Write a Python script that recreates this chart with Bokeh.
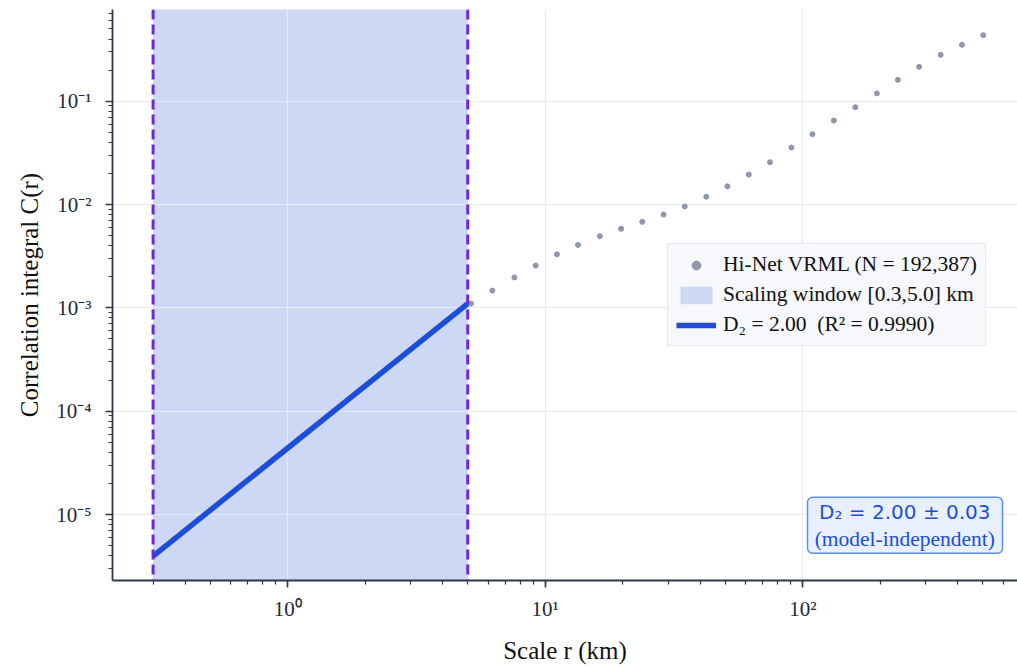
from bokeh.plotting import figure
from bokeh.models import (Range1d, Span, Legend, LegendItem, BoxAnnotation, Label,
                          CustomJSTickFormatter)
from bokeh.embed import file_html
from bokeh.resources import INLINE

# Correlation integral C(r) of the Hi-Net VRML catalogue
r_km = [5.15, 6.23, 7.59, 9.18, 11.1, 13.4, 16.3, 19.7, 23.8, 28.8, 34.8, 42.2,
        51.0, 61.7, 74.6, 90.3, 109, 132, 160, 194, 234, 283, 343, 415, 502]
c_r = [1.10e-3, 1.47e-3, 1.97e-3, 2.57e-3, 3.30e-3, 4.07e-3, 4.94e-3, 5.82e-3,
       6.80e-3, 8.00e-3, 9.57e-3, 1.19e-2, 1.50e-2, 1.95e-2, 2.57e-2, 3.56e-2,
       4.80e-2, 6.50e-2, 8.75e-2, 0.119, 0.161, 0.215, 0.281, 0.351, 0.436]

# Scaling window and power-law fit C(r) = A * r^D2
window_km = [0.3, 5.0]
d2 = 2.00
d2_err = 0.03
r_squared = 0.9990
fit_amp = 4.4e-5
n_events = 192387

fit_r = list(window_km)
fit_c = [fit_amp * r ** d2 for r in fit_r]

INK = "#1f2937"
AXIS = "#2d3748"
GRID = "#e6ebf2"

p = figure(frame_width=905, frame_height=571,
           x_axis_type="log", y_axis_type="log",
           x_range=Range1d(0.2087, 682), y_range=Range1d(2.3e-6, 0.772),
           output_backend="svg", toolbar_location=None,
           min_border_left=112, min_border_right=0, min_border_top=9,
           min_border_bottom=87, background_fill_color="white",
           border_fill_color="white")
p.outline_line_color = None

# scaling window shading, kept below the grid
shade = p.quad(left=[window_km[0]], right=[window_km[1]], bottom=[1e-12], top=[1e3],
               fill_color="#cdd8f4", line_color=None, level="image")

for g in (p.xgrid, p.ygrid):
    g.grid_line_color = GRID
    g.grid_line_width = 1.2

dots = p.scatter(r_km, c_r, size=5, color="#8a93a5", alpha=0.95)
fit = p.line(fit_r, fit_c, line_color="#1d4ed8", line_width=5.5)

for loc in window_km:
    p.add_layout(Span(location=loc, dimension="height", line_color="#6d28d9",
                      line_width=3, line_dash="10 5"))

sup_js = """
const sup = {"-": "\u207b", "0": "\u2070", "1": "\u00b9", "2": "\u00b2", "3": "\u00b3",
             "4": "\u2074", "5": "\u2075", "6": "\u2076", "7": "\u2077", "8": "\u2078",
             "9": "\u2079"};
const e = Math.round(Math.log10(tick));
return "10" + String(e).split("").map(c => sup[c]).join("");
"""

for ax in (p.xaxis[0], p.yaxis[0]):
    ax.formatter = CustomJSTickFormatter(code=sup_js)
    ax.axis_line_color = AXIS
    ax.axis_line_width = 1.8
    ax.major_tick_line_color = AXIS
    ax.major_tick_line_width = 1.6
    ax.minor_tick_line_color = AXIS
    ax.minor_tick_line_width = 1.2
    ax.major_tick_in = 0
    ax.major_tick_out = 7
    ax.minor_tick_in = 0
    ax.minor_tick_out = 4
    ax.major_label_text_font = "Liberation Serif"
    ax.major_label_text_font_size = "21px"
    ax.major_label_text_color = INK
    ax.axis_label_text_font = "Liberation Serif"
    ax.axis_label_text_font_size = "25px"
    ax.axis_label_text_font_style = "normal"
    ax.axis_label_text_color = "#111111"

p.xaxis.axis_label = "Scale r (km)"
p.yaxis.axis_label = "Correlation integral C(r)"
p.xaxis.major_label_standoff = 9
p.yaxis.major_label_standoff = 14
p.xaxis.axis_label_standoff = 13
p.yaxis.axis_label_standoff = 10

legend = Legend(items=[
    LegendItem(label=f"Hi-Net VRML (N = {n_events:,})", renderers=[dots]),
    LegendItem(label=f"Scaling window [{window_km[0]},{window_km[1]}] km", renderers=[shade]),
    LegendItem(label=f"D\u2082 = {d2:.2f}  (R\u00b2 = {r_squared:.4f})", renderers=[fit]),
], location=(555, 234))
legend.label_text_font = "Liberation Serif"
legend.label_text_font_size = "21.5px"
legend.label_text_color = "#111111"
legend.glyph_width = 40
legend.glyph_height = 22
legend.label_height = 22
legend.label_standoff = 7
legend.spacing = 5
legend.padding = 8
legend.margin = 0
legend.background_fill_color = "#f5f8fc"
legend.background_fill_alpha = 0.95
legend.border_line_color = "#d5dbe3"
legend.border_line_width = 1.5
p.add_layout(legend)

# estimate summary box
p.add_layout(BoxAnnotation(left=104.3, right=596.5, bottom=4.22e-6, top=1.47e-5,
                           fill_color="#e8f0fd", fill_alpha=1.0,
                           line_color="#5b8ff0", line_alpha=1.0, line_width=1.5,
                           border_radius=5))
p.add_layout(Label(x=249, y=1.052e-5, text=f"D\u2082 = {d2:.2f} \u00b1 {d2_err:.2f}",
                   text_align="center", text_baseline="middle",
                   text_font="DejaVu Sans", text_font_size="20px",
                   text_color="#1d4ed8"))
p.add_layout(Label(x=249, y=5.82e-6, text="(model-independent)",
                   text_align="center", text_baseline="middle",
                   text_font="Liberation Serif", text_font_size="21.5px",
                   text_color="#1d4ed8"))

open("out.html", "w").write(file_html(p, INLINE))
